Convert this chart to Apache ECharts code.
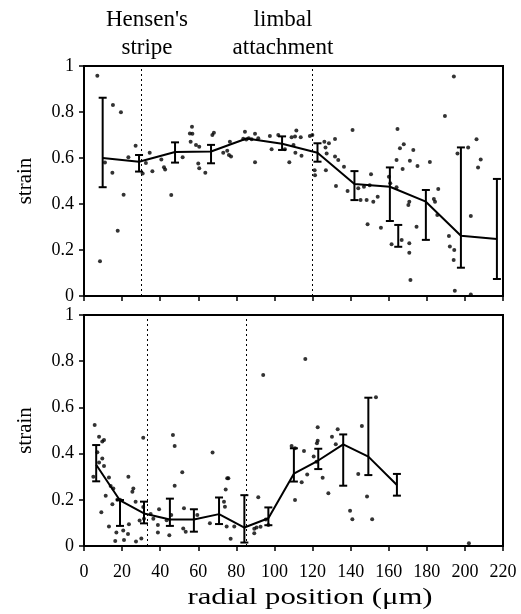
<!DOCTYPE html>
<html><head><meta charset="utf-8">
<script src="https://cdn.jsdelivr.net/npm/echarts@6/dist/echarts.min.js"></script>
<style>html,body{margin:0;padding:0;background:#fff}#c{width:521px;height:614px}</style>
</head><body><div id="c"></div>
<script>
// ---- data ----
const xMin = 0, xMax = 220, xStep = 20;
const yMin = 0, yMax = 1, yStep = 0.2;
const yTickText = {0: '0', 0.2: '0.2', 0.4: '0.4', 0.6: '0.6', 0.8: '0.8', 1: '1'};
const topDividers = [30, 120];
const bottomDividers = [33, 85];
const headerLeft = ["Hensen's", 'stripe'];
const headerRight = ['limbal', 'attachment'];
const yName = 'strain';
const xName = 'radial position (\u03bcm)';

const topMean = [[9.8,0.60],[28.9,0.584],[47.8,0.626],[66.7,0.628],[85.4,0.685],[104,0.662],[122.6,0.623],[142,0.487],[160.6,0.475],[179.5,0.41],[197.9,0.262],[216.8,0.248]];
const topErr = [[9.8,0.473,0.862],[28.9,0.541,0.613],[47.8,0.58,0.668],[66.7,0.577,0.657],[104,0.635,0.694],[122.6,0.584,0.664],[142,0.417,0.543],[160.6,0.326,0.559],[165,0.214,0.309],[179.5,0.244,0.461],[197.9,0.123,0.646],[216.8,0.074,0.509]];
const topPoints = [
[7.0,0.958],[15.2,0.83],[19.4,0.799],[27.1,0.653],[23.3,0.603],[11,0.58],[14.9,0.536],[20.8,0.44],[17.7,0.284],[8.4,0.151],
[34.5,0.623],[32.5,0.578],[35.9,0.542],[30.8,0.533],[40.6,0.594],[42,0.56],[42.6,0.55],[45.8,0.439],[51.8,0.603],
[56.7,0.736],[55.6,0.707],[56.9,0.705],[56,0.671],[58.8,0.656],[60.5,0.649],[60,0.576],[60.5,0.555],[63.7,0.536],
[68.2,0.71],[67.4,0.70],[73.1,0.623],[75.2,0.632],[76.6,0.671],[76.1,0.613],[77.2,0.606],
[84.5,0.714],[83.6,0.684],[85.2,0.68],[86.5,0.686],[88,0.682],[89.8,0.705],[91.5,0.686],[89.8,0.581],
[97.6,0.696],[98.5,0.638],[102,0.70],[105.5,0.638],[107.8,0.581],[109,0.69],[110.8,0.694],[111.5,0.72],[113.8,0.69],
[110,0.656],[111,0.623],[114.2,0.61],[118.6,0.696],[119.9,0.70],[121.1,0.547],[121.3,0.525],
[126.2,0.671],[128.6,0.664],[131.8,0.683],[127.4,0.62],[126.8,0.646],[127,0.547],[131.8,0.606],[133.5,0.591],
[136.5,0.562],[132.3,0.478],[141,0.722],[138.4,0.456],[144,0.468],[145.2,0.417],[147,0.475],[148.4,0.417],
[150.7,0.529],[150,0.482],[151.9,0.41],[154.2,0.432],[148.9,0.312],[155.9,0.297],[160.1,0.519],[160.8,0.49],
[164.6,0.726],[165.9,0.642],[167.9,0.66],[172.9,0.635],[164.1,0.591],[167.3,0.552],[171.1,0.588],[175.1,0.565],
[181.6,0.583],[164.1,0.473],[170.3,0.396],[170.8,0.41],[174.6,0.301],[161.5,0.225],[166.8,0.243],[170.8,0.229],
[170.8,0.188],[171.4,0.07],[186,0.465],[183.7,0.422],[184.3,0.41],[185.5,0.352],[189.5,0.783],[194.2,0.954],
[196.1,0.62],[201.7,0.646],[191.6,0.261],[192.1,0.215],[194.4,0.2],[194.1,0.156],[203.1,0.348],[206.1,0.682],
[208.3,0.594],[206.9,0.559],[194.7,0.023],[203.1,0.007]
];

const bottomMean = [[6.4,0.352],[18.9,0.197],[31.5,0.141],[45.1,0.115],[57.7,0.115],[70.9,0.138],[84.2,0.08],[96.8,0.12],[110.2,0.313],[123,0.37],[136.1,0.44],[149.3,0.387],[164.3,0.264]];
const bottomErr = [[6.4,0.28,0.437],[18.9,0.087,0.199],[31.5,0.098,0.192],[45.1,0.087,0.205],[57.7,0.062,0.159],[70.9,0.095,0.21],[84.2,0.015,0.22],[96.8,0.09,0.167],[110.2,0.279,0.423],[123,0.333,0.421],[136.1,0.261,0.483],[149.3,0.307,0.642],[164.3,0.218,0.312]];
const bottomPoints = [
[5.6,0.524],[7.9,0.473],[9.6,0.452],[10.5,0.459],[7,0.406],[9.6,0.379],[10.5,0.346],[7.9,0.361],[4.9,0.30],
[13.1,0.296],[14,0.26],[15.4,0.249],[23.3,0.30],[25.9,0.249],[25.4,0.235],[11.4,0.218],[17.5,0.20],[18.9,0.20],
[14.9,0.181],[27.1,0.192],[9.1,0.146],[13.1,0.084],[17,0.058],[20.6,0.067],[23.1,0.052],[21,0.026],[16.4,0.022],
[27.3,0.019],[30.1,0.033],[23.6,0.094],[29.2,0.11],[31.1,0.169],[31.5,0.118],[31.1,0.469],[35,0.138],[36.4,0.118],
[39.4,0.159],[38.8,0.091],[38.8,0.058],[44.8,0.046],[43.4,0.112],[45.8,0.134],[46.7,0.48],[47.6,0.433],[51.6,0.319],
[47.6,0.261],[52.5,0.163],[52.1,0.076],[53.4,0.062],[59.5,0.134],[66.1,0.098],[67.5,0.405],[74.4,0.245],[75.2,0.293],
[73.5,0.192],[74.9,0.084],[75.8,0.293],[74,0.17],[78.9,0.084],[77,0.031],[91.5,0.211],[89.4,0.075],[90.6,0.08],
[92.7,0.083],[89.4,0.055],[96.8,0.091],[95.5,0.115],[94.1,0.74],[109,0.433],[110.8,0.423],[115.5,0.411],[114.3,0.276],
[117.2,0.309],[110.8,0.199],[116.2,0.81],[122.7,0.514],[122.7,0.456],[122.3,0.445],[120.6,0.387],[122.1,0.365],
[125.3,0.295],[128.3,0.228],[130.2,0.473],[133.2,0.505],[132.2,0.44],[139.7,0.153],[140.9,0.116],[144,0.312],
[145.9,0.519],[148.6,0.214],[153.3,0.644],[151.3,0.116],[202.1,0.012]
];

// ---- chart ----
const FONT = '"Liberation Serif", "Times New Roman", serif';
const chart = echarts.init(document.getElementById('c'), null, {renderer: 'canvas'});

function errRender(params, api) {
  const x = api.value(0), lo = api.value(1), hi = api.value(2);
  const a = api.coord([x, lo]), b = api.coord([x, hi]);
  const w = 4;
  const st = {stroke: '#000', lineWidth: 2};
  return {type: 'group', children: [
    {type: 'line', shape: {x1: a[0], y1: a[1], x2: b[0], y2: b[1]}, style: st},
    {type: 'line', shape: {x1: a[0] - w, y1: a[1], x2: a[0] + w, y2: a[1]}, style: st},
    {type: 'line', shape: {x1: b[0] - w, y1: b[1], x2: b[0] + w, y2: b[1]}, style: st}
  ]};
}

function xAxis(idx, showLabels) {
  return {
    type: 'value', gridIndex: idx, min: xMin, max: xMax, interval: xStep,
    axisLine: {show: true, onZero: false, lineStyle: {color: '#000', width: 2}},
    axisTick: {show: true, length: 5, lineStyle: {color: '#000', width: 1.5}},
    axisLabel: {show: showLabels, color: '#000', fontFamily: FONT, fontSize: 18, margin: 17},
    splitLine: {show: false}
  };
}
function yAxis(idx) {
  return {
    type: 'value', gridIndex: idx, min: yMin, max: yMax, interval: yStep,
    name: yName, nameLocation: 'middle', nameGap: 48, nameRotate: 90,
    nameTextStyle: {color: '#000', fontFamily: FONT, fontSize: 21},
    axisLine: {show: true, onZero: false, lineStyle: {color: '#000', width: 2}},
    axisTick: {show: true, length: 5, lineStyle: {color: '#000', width: 1.5}},
    axisLabel: {color: '#000', fontFamily: FONT, fontSize: 18, margin: 10,
      formatter: v => yTickText[Math.round(v * 10) / 10] ?? String(v)},
    splitLine: {show: false}
  };
}
function dividerLine(vals) {
  return {
    silent: true, symbol: ['none', 'none'], label: {show: false},
    lineStyle: {color: '#000', type: [2, 3], width: 1},
    data: vals.map(v => ({xAxis: v}))
  };
}

chart.setOption({
  animation: false,
  backgroundColor: '#fff',
  grid: [
    {left: 84, top: 66, width: 419, height: 230, show: true, borderColor: '#000', borderWidth: 2, backgroundColor: 'transparent'},
    {left: 84, top: 315, width: 419, height: 231, show: true, borderColor: '#000', borderWidth: 2, backgroundColor: 'transparent'}
  ],
  xAxis: [xAxis(0, false), xAxis(1, true)],
  yAxis: [yAxis(0), yAxis(1)],
  graphic: [
    {type: 'text', x: 147, y: 20, style: {text: headerLeft[0], font: '23px ' + FONT, fill: '#000', align: 'center', verticalAlign: 'middle'}},
    {type: 'text', x: 147, y: 48, style: {text: headerLeft[1], font: '23px ' + FONT, fill: '#000', align: 'center', verticalAlign: 'middle'}},
    {type: 'text', x: 283, y: 20, style: {text: headerRight[0], font: '23px ' + FONT, fill: '#000', align: 'center', verticalAlign: 'middle'}},
    {type: 'text', x: 283, y: 48, style: {text: headerRight[1], font: '23px ' + FONT, fill: '#000', align: 'center', verticalAlign: 'middle'}},
    {type: 'text', x: 310, y: 598, scaleX: 1.28, style: {text: xName, font: '24px ' + FONT, fill: '#000', align: 'center', verticalAlign: 'middle'}}
  ],
  series: [
    {type: 'scatter', xAxisIndex: 0, yAxisIndex: 0, data: topPoints, symbolSize: 4, itemStyle: {color: '#000'}, silent: true,
     markLine: dividerLine(topDividers)},
    {type: 'line', xAxisIndex: 0, yAxisIndex: 0, data: topMean, showSymbol: false, lineStyle: {color: '#000', width: 2}},
    {type: 'custom', xAxisIndex: 0, yAxisIndex: 0, data: topErr, renderItem: errRender, encode: {x: 0, y: [1, 2]}},
    {type: 'scatter', xAxisIndex: 1, yAxisIndex: 1, data: bottomPoints, symbolSize: 4, itemStyle: {color: '#000'}, silent: true,
     markLine: dividerLine(bottomDividers)},
    {type: 'line', xAxisIndex: 1, yAxisIndex: 1, data: bottomMean, showSymbol: false, lineStyle: {color: '#000', width: 2}},
    {type: 'custom', xAxisIndex: 1, yAxisIndex: 1, data: bottomErr, renderItem: errRender, encode: {x: 0, y: [1, 2]}}
  ]
});
</script>
</body></html>
